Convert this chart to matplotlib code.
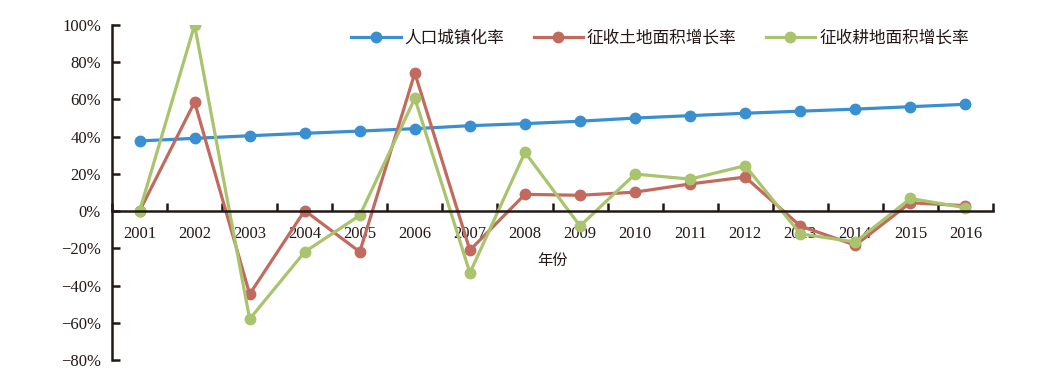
import matplotlib
matplotlib.use("Agg")
import matplotlib.pyplot as plt
from matplotlib.ticker import FixedLocator, FuncFormatter
import numpy as np

years = ["2001", "2002", "2003", "2004", "2005", "2006", "2007", "2008",
         "2009", "2010", "2011", "2012", "2013", "2014", "2015", "2016"]
urban = [37.7, 39.1, 40.5, 41.8, 43.0, 44.3, 45.9, 47.0,
         48.3, 50.0, 51.3, 52.6, 53.7, 54.8, 56.1, 57.4]
land = [0.0, 58.6, -44.6, 0.3, -21.9, 74.2, -21.0, 9.0,
        8.5, 10.2, 14.6, 18.3, -8.0, -18.3, 4.5, 2.9]
farm = [0.0, 100.0, -58.0, -21.9, -2.3, 60.6, -33.2, 31.6,
        -8.0, 19.9, 17.2, 24.4, -12.2, -16.6, 6.8, 1.8]
series_names = ["人口城镇化率", "征收土地面积增长率", "征收耕地面积增长率"]
yticks = [-80, -60, -40, -20, 0, 20, 40, 60, 80, 100]

colors = ["#3A8FD0", "#C26A5E", "#A9C46C"]
serif = ["Liberation Serif", "DejaVu Serif"]
cjk = ["Noto Sans CJK SC", "DejaVu Sans"]

fig = plt.figure(figsize=(10.49, 3.78), dpi=100)
ax = fig.add_axes([112 / 1049, 1 - 360 / 378, (993 - 112) / 1049, (360 - 25) / 378])

x = np.arange(len(years))
lines = []
for vals, c, name in zip([urban, land, farm], colors, series_names):
    ln, = ax.plot(x, vals, color=c, lw=2.3, marker="o", ms=7.5, label=name,
                  solid_joinstyle="round")
    lines.append(ln)

ax.set_xlim(-0.5, len(years) - 0.5)
ax.set_ylim(-80, 100)

for s in ["top", "right"]:
    ax.spines[s].set_visible(False)
ax.spines["bottom"].set_position(("data", 0))
ax.spines["left"].set_linewidth(1.8)
ax.spines["bottom"].set_linewidth(1.8)
ax.spines["left"].set_color("#231815")
ax.spines["bottom"].set_color("#231815")

# y axis
ax.yaxis.set_major_locator(FixedLocator(yticks))
ax.yaxis.set_major_formatter(FuncFormatter(lambda v, p: ("\u2212" if v < 0 else "") + f"{abs(int(v))}%"))
ax.tick_params(axis="y", direction="in", length=6, width=1.8, color="#231815", pad=8)
for lab in ax.get_yticklabels():
    lab.set_fontfamily(serif)
    lab.set_fontsize(12)
    lab.set_color("#231815")

# x axis: ticks at boundaries, labels at centers
ax.xaxis.set_major_locator(FixedLocator(np.arange(len(years) + 1) - 0.5))
ax.xaxis.set_major_formatter(FuncFormatter(lambda v, p: ""))
ax.xaxis.set_minor_locator(FixedLocator(x))
ax.xaxis.set_minor_formatter(FuncFormatter(lambda v, p: years[int(round(v))]))
ax.tick_params(axis="x", which="major", direction="in", length=6, width=1.8, color="#231815")
ax.tick_params(axis="x", which="minor", length=0, pad=11)
for lab in ax.get_xticklabels(minor=True):
    lab.set_fontfamily(serif)
    lab.set_fontsize(12)
    lab.set_color("#231815")

ax.text(0.5, (360 - 260) / 335, "年份", transform=ax.transAxes, ha="center", va="center",
        fontfamily=cjk, fontsize=11, color="#231815")

leg = fig.legend(handles=lines, loc="center", bbox_to_anchor=(660 / 1049, 1 - 38 / 378),
                 ncol=3, frameon=False, prop={"family": cjk, "size": 12},
                 handlelength=2.95, columnspacing=1.75, handletextpad=0.25,
                 borderpad=0, borderaxespad=0)
for t in leg.get_texts():
    t.set_color("#231815")

fig.savefig("out.png", dpi=100)
